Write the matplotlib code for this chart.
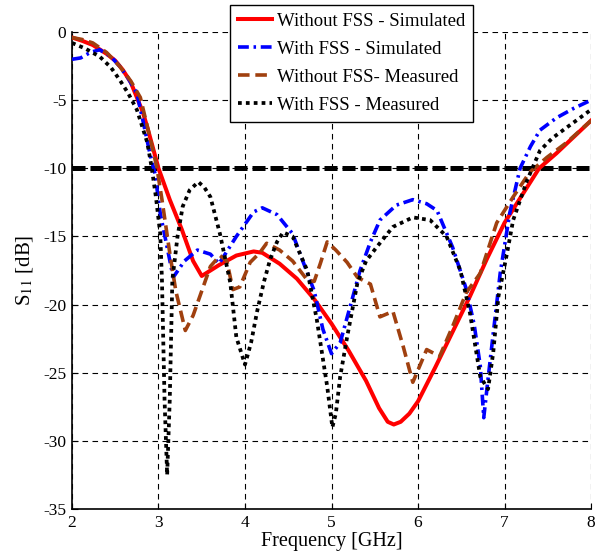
import numpy as np
import matplotlib
matplotlib.use("Agg")
import matplotlib.pyplot as plt

plt.rcParams["font.family"] = "Liberation Serif"
plt.rcParams["mathtext.fontset"] = "stix"
plt.rcParams["axes.unicode_minus"] = False

# Without FSS - Simulated
f_red = [2.0, 2.12, 2.24, 2.4, 2.5, 2.59, 2.68, 2.75, 2.82, 2.88, 2.94, 3.0, 3.13, 3.27, 3.4, 3.5,
         3.7, 3.9, 4.1, 4.2, 4.4, 4.6, 4.8, 5.0, 5.2, 5.4, 5.55, 5.65, 5.72, 5.8, 5.9, 6.0, 6.2,
         6.4, 6.6, 6.8, 7.0, 7.2, 7.4, 7.6, 7.8, 8.0]
s_red = [-0.4, -0.65, -0.95, -1.6, -2.1, -2.8, -3.7, -4.8, -5.9, -7.2, -8.6, -10.0, -12.3, -14.5,
         -16.8, -17.9, -17.1, -16.4, -16.1, -16.2, -17.0, -18.1, -19.6, -21.4, -23.4, -25.6, -27.6,
         -28.6, -28.8, -28.6, -28.0, -27.1, -24.6, -22.0, -19.4, -16.6, -14.0, -12.0, -10.0, -8.9,
         -7.7, -6.5]

# With FSS - Simulated
f_blue = [2.0, 2.1, 2.21, 2.32, 2.45, 2.55, 2.65, 2.75, 2.82, 2.9, 2.96, 3.02, 3.1, 3.17, 3.3, 3.45,
          3.6, 3.7, 3.9, 4.1, 4.2, 4.37, 4.55, 4.65, 4.8, 4.9, 5.0, 5.1, 5.2, 5.33, 5.45, 5.56, 5.75,
          5.94, 6.1, 6.22, 6.4, 6.56, 6.65, 6.72, 6.76, 6.8, 6.87, 6.95, 7.06, 7.18, 7.3, 7.41, 7.6,
          7.8, 8.0]
s_blue = [-2.0, -1.9, -1.5, -1.3, -1.8, -2.5, -3.4, -4.5, -6.5, -8.9, -10.4, -13.3, -15.8, -18.0,
          -16.8, -16.0, -16.3, -17.0, -15.0, -13.2, -12.9, -13.4, -14.8, -16.5, -19.0, -21.8, -23.6,
          -22.8, -20.5, -17.5, -15.4, -13.8, -12.7, -12.3, -12.6, -13.1, -15.8, -18.9, -21.5, -24.5,
          -28.3, -26.0, -22.1, -17.7, -13.3, -10.0, -8.4, -7.2, -6.3, -5.6, -5.0]

# Without FSS - Measured
f_brown = [2.0, 2.12, 2.24, 2.4, 2.55, 2.68, 2.79, 2.9, 2.98, 3.04, 3.13, 3.2, 3.31, 3.4, 3.5, 3.6,
           3.71, 3.79, 3.86, 3.94, 4.06, 4.17, 4.25, 4.4, 4.55, 4.72, 4.8, 4.87, 4.95, 5.05, 5.18,
           5.3, 5.45, 5.56, 5.71, 5.83, 5.94, 6.02, 6.1, 6.25, 6.4, 6.56, 6.72, 6.91, 7.1, 7.29,
           7.49, 7.72, 8.0]
s_brown = [-0.4, -0.55, -0.8, -1.5, -2.5, -3.6, -4.8, -7.7, -9.9, -12.3, -16.2, -19.0, -21.9, -20.8,
           -19.0, -17.2, -16.4, -16.8, -18.9, -18.7, -16.9, -16.2, -15.5, -16.0, -16.8, -18.2, -18.3,
           -17.0, -15.4, -16.0, -16.9, -18.0, -18.5, -20.9, -20.5, -23.1, -25.7, -24.5, -23.3, -23.8,
           -21.6, -19.1, -17.7, -14.0, -12.1, -10.3, -9.2, -8.1, -6.5]

# With FSS - Measured
f_black = [2.0, 2.15, 2.32, 2.45, 2.55, 2.65, 2.75, 2.87, 2.92, 2.97, 3.02, 3.04, 3.07, 3.1, 3.13,
           3.16, 3.22, 3.28, 3.36, 3.46, 3.53, 3.6, 3.71, 3.83, 3.9, 4.0, 4.07, 4.14, 4.22, 4.29,
           4.37, 4.44, 4.55, 4.72, 4.83, 4.95, 5.01, 5.05, 5.1, 5.18, 5.3, 5.4, 5.52, 5.71, 5.94,
           6.14, 6.33, 6.49, 6.6, 6.72, 6.81, 6.87, 6.93, 7.03, 7.1, 7.26, 7.41, 7.55, 7.72, 7.85,
           8.0]
s_black = [-0.8, -1.2, -1.8, -2.6, -3.5, -4.5, -5.7, -8.1, -9.9, -12.1, -14.8, -18.2, -27.0, -32.5,
           -27.0, -18.2, -15.0, -12.8, -11.6, -11.0, -11.4, -12.1, -14.8, -18.4, -22.4, -24.4, -22.8,
           -20.5, -18.3, -16.7, -15.4, -14.7, -15.0, -17.5, -21.1, -26.0, -29.0, -28.0, -25.3, -22.4,
           -18.4, -16.8, -15.8, -14.3, -13.6, -13.8, -15.0, -17.5, -20.6, -25.3, -26.2, -23.5, -19.4,
           -16.2, -13.8, -10.9, -8.7, -7.8, -7.0, -6.4, -5.7]

labels = ["Without FSS - Simulated", "With FSS - Simulated",
          "Without FSS- Measured", "With FSS - Measured"]

fig = plt.figure(figsize=(6.04, 5.58), dpi=100)
ax = fig.add_axes([0.1192, 0.0878, 0.8593, 0.8548])

ax.grid(True, color="black", linestyle=(0, (5, 4)), linewidth=0.8)
ax.axhline(-10, color="black", linewidth=3.6, dashes=(2.6, 1.0), zorder=3)

ax.plot(f_red, s_red, color="red", linewidth=2.9, label=labels[0], zorder=4)
ax.plot(f_blue, s_blue, color="blue", linewidth=2.6, dashes=(3.0, 1.3, 0.7, 1.3), label=labels[1], zorder=4)
ax.plot(f_brown, s_brown, color="#A0400F", linewidth=2.6, dashes=(3.2, 1.6), label=labels[2], zorder=4)
ax.plot(f_black, s_black, color="black", linewidth=2.7, dashes=(1.0, 1.1), label=labels[3], zorder=4)

ax.set_xlim(2, 8)
ax.set_ylim(-35, 0)
ax.set_xticks(range(2, 9))
ax.set_yticks(range(-35, 1, 5))
ax.spines["top"].set_visible(False)
ax.spines["right"].set_visible(False)
for s in ["left", "bottom"]:
    ax.spines[s].set_linewidth(1.2)
ax.tick_params(direction="in", length=4, labelsize=12.5, pad=4)
ax.set_xlabel("Frequency [GHz]", fontsize=14.5, labelpad=1)
ax.set_ylabel(r"S$_{11}$ [dB]", fontsize=15, labelpad=6)

leg = ax.legend(loc="upper left", bbox_to_anchor=(0.381, 0.991), bbox_transform=fig.transFigure,
                borderaxespad=0, fontsize=13.5, fancybox=False, framealpha=1, edgecolor="black",
                handlelength=1.8, handletextpad=0.3, labelspacing=0.58, borderpad=0.42)
leg.get_frame().set_linewidth(1.0)
leg.set_zorder(10)

fig.savefig("out.png", dpi=100)
